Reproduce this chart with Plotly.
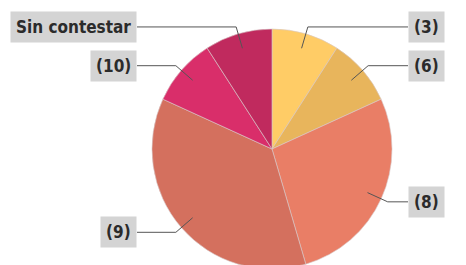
import math
import plotly.graph_objects as go

# ---- data ----
labels = ["(3)", "(6)", "(8)", "(9)", "(10)", "Sin contestar"]
values = [3, 3, 9, 12, 3, 3]
colors = ["#FFCC66", "#E8B55C", "#E97E66", "#D4705E", "#D92E6A", "#C02A5E"]

# ---- layout geometry (pixels) ----
W, H = 466, 270
CX, CY, R = 272, 149, 120
LEFT_EDGE, RIGHT_EDGE = 137, 408


def px(x):
    return x / W


def py(y):
    return 1 - y / H


fig = go.Figure(
    go.Pie(
        labels=labels,
        values=values,
        sort=False,
        direction="clockwise",
        rotation=0,
        marker=dict(colors=colors, line=dict(color="rgba(215,200,200,0.6)", width=1)),
        textinfo="none",
        hoverinfo="label+value",
        showlegend=False,
        domain=dict(x=[px(CX - R), px(CX + R)], y=[py(CY + R), py(CY - R)]),
    )
)

total = sum(values)
shapes = []
annotations = []
cum = 0
for lab, v in zip(labels, values):
    mid = (cum + v / 2) / total * 2 * math.pi
    cum += v
    s, c = math.sin(mid), math.cos(mid)
    x1, y1 = CX + 0.875 * R * s, CY - 0.875 * R * c
    x2, y2 = CX + 1.06 * R * s, CY - 1.06 * R * c
    right = s > 0
    x3 = RIGHT_EDGE if right else LEFT_EDGE
    path = f"M {px(x1)} {py(y1)} L {px(x2)} {py(y2)} L {px(x3)} {py(y2)}"
    shapes.append(dict(type="path", xref="paper", yref="paper", path=path,
                       line=dict(color="#555555", width=1)))
    annotations.append(dict(
        x=px(x3), y=py(y2), xref="paper", yref="paper",
        text=f"<b>{lab}</b>", showarrow=False,
        xanchor="left" if right else "right", yanchor="middle",
        bgcolor="#D4D4D4", borderpad=5,
        font=dict(family="DejaVu Sans Condensed, DejaVu Sans", size=17, color="#2B2B2B"),
    ))

fig.update_layout(
    width=W, height=H,
    margin=dict(l=0, r=0, t=0, b=0),
    paper_bgcolor="white",
    plot_bgcolor="white",
    shapes=shapes,
    annotations=annotations,
)

fig.write_html(
    "out.html",
    config={"displayModeBar": False},
    post_script="document.body.style.margin='0';document.body.style.overflow='hidden';document.documentElement.style.overflow='hidden';",
)
